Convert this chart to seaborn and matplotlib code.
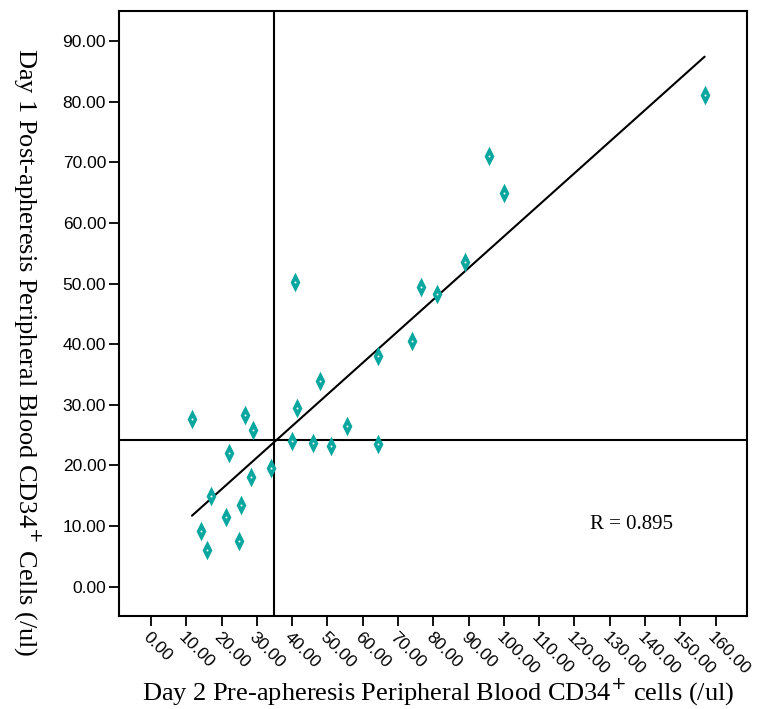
import matplotlib
matplotlib.use("Agg")
import matplotlib.pyplot as plt
import seaborn as sns
import pandas as pd
import numpy as np

# Data
day2_pre = [11.6, 14.2, 15.9, 17.0, 21.2, 22.1, 24.9, 25.5, 26.6, 28.9, 28.3, 34.0,
            40.0, 40.8, 41.4, 45.9, 47.9, 51.0, 55.5, 64.3, 64.3, 73.9, 76.5, 81.0,
            89.0, 95.8, 100.0, 156.9]
day1_post = [27.6, 9.2, 6.0, 14.9, 11.5, 22.0, 7.5, 13.4, 28.4, 25.8, 18.1, 19.6,
             24.0, 50.2, 29.5, 23.7, 33.9, 23.2, 26.5, 38.0, 23.5, 40.5, 49.4, 48.3,
             53.5, 71.0, 64.9, 81.1]
ref_x = 34.8
ref_y = 24.2
r_text = "R = 0.895"
x_ticks = list(range(0, 161, 10))
y_ticks = list(range(0, 91, 10))

df = pd.DataFrame({"x": day2_pre, "y": day1_post})

sns.set_style("white")
plt.rcParams["text.color"] = "black"
plt.rcParams["xtick.color"] = "black"
plt.rcParams["ytick.color"] = "black"
plt.rcParams["axes.labelcolor"] = "black"

fig = plt.figure(figsize=(7.57, 7.09), dpi=100)
ax = fig.add_axes([0.1576, 0.1312, 0.8296, 0.8537])

ax.axvline(ref_x, color="black", lw=1.5, zorder=1)
ax.axhline(ref_y, color="black", lw=1.5, zorder=1)

sns.regplot(data=df, x="x", y="y", scatter=False, ci=None, truncate=True,
            line_kws={"color": "black", "lw": 1.5, "zorder": 2}, ax=ax)

diamond = [(-0.5, 0), (0, 1), (0.5, 0), (0, -1), (-0.5, 0)]
sns.scatterplot(data=df, x="x", y="y", marker=diamond, s=200, color="#0AA6A0",
                edgecolor="#0AA6A0", linewidth=0, zorder=3, ax=ax)
ax.scatter(df["x"], df["y"], s=2, color="white", zorder=4, linewidths=0)

ax.set_xlim(-9, 169)
ax.set_ylim(-4.83, 95)
ax.set_xticks(x_ticks)
ax.set_yticks(y_ticks)
ax.set_xticklabels([f"{v:.2f}" for v in x_ticks], rotation=-45, ha="left",
                   va="top", rotation_mode="anchor", fontsize=12.5,
                   family="Liberation Sans", color="black")
ax.set_yticklabels([f"{v:.2f}" for v in y_ticks], fontsize=12.5,
                   family="Liberation Sans", color="black")
ax.tick_params(axis="both", direction="out", length=7.5, width=1.3, color="black",
               bottom=True, left=True, pad=2)
for s in ax.spines.values():
    s.set_color("black")
    s.set_linewidth(1.5)

ax.set_xlabel("Day 2 Pre-apheresis Peripheral Blood CD34$^{+}$ cells (/ul)",
              fontsize=19, family="Liberation Serif", color="black")
ax.set_ylabel("Day 1 Post-apheresis Peripheral Blood CD34$^{+}$ Cells (/ul)",
              fontsize=19, family="Liberation Serif", rotation=270, color="black")
ax.yaxis.set_label_coords(-0.172, 0.436)
ax.xaxis.set_label_coords(0.507, -0.100)
ax.grid(False)

ax.text(124.4, 10.3, r_text, fontsize=15, family="Liberation Serif",
        ha="left", va="center", color="black")

fig.savefig("out.png", dpi=100)
